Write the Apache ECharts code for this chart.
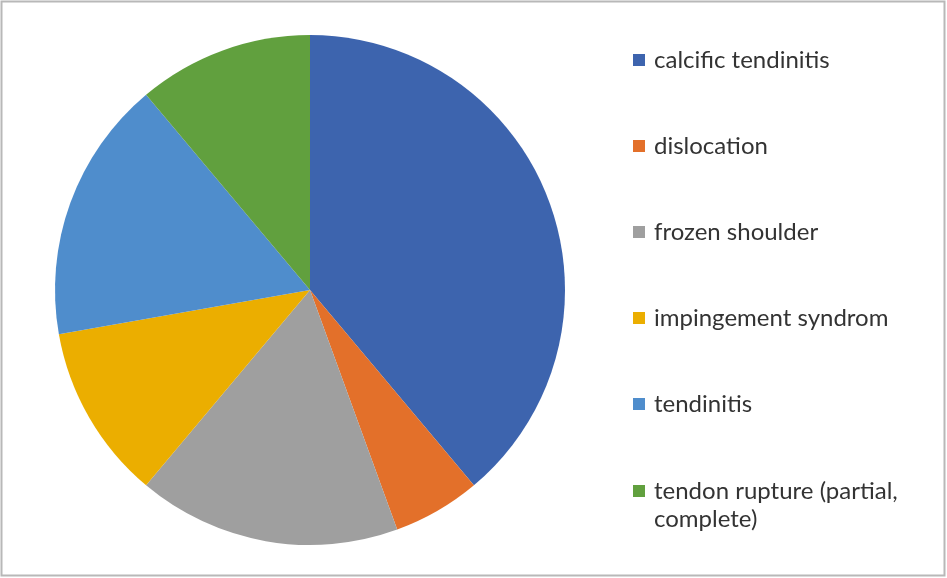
<!DOCTYPE html>
<html>
<head>
<meta charset="utf-8">
<script src="https://cdn.jsdelivr.net/npm/echarts@6/dist/echarts.min.js"></script>
<style>
html,body{margin:0;padding:0;background:#fff;}
#chart{width:947px;height:578px;}
</style>
</head>
<body>
<div id="chart"></div>
<script>
const categories = ["calcific tendinitis", "dislocation", "frozen shoulder", "impingement syndrom", "tendinitis", "tendon rupture (partial, complete)"];
const values = [7, 1, 3, 2, 3, 2];
const colors = ["#3d64ae", "#e3702a", "#9f9f9f", "#ebae00", "#4f8dcc", "#61a03e"];

const chart = echarts.init(document.getElementById('chart'), null, {renderer: 'canvas'});
const txt = {
  fontFamily: 'Lato, "Open Sans", sans-serif',
  fontSize: 24,
  lineHeight: 28,
  color: '#333333'
};
const rich = {
  t: Object.assign({padding: [0, 0, 0, 4]}, txt),
  e: Object.assign({padding: [0, 0, 0, 4]}, txt)
};
const legendBase = {
  orient: 'vertical',
  left: 633,
  padding: 0,
  icon: 'rect',
  itemWidth: 12,
  itemHeight: 12,
  itemGap: 58,
  textStyle: Object.assign({rich: rich}, txt)
};
chart.setOption({
  animation: false,
  backgroundColor: '#ffffff',
  color: colors,
  graphic: [{
    type: 'rect',
    shape: {x: 1.5, y: 1.5, width: 943, height: 574},
    style: {fill: 'none', stroke: '#b8b8b8', lineWidth: 2},
    silent: true
  }],
  legend: [
    Object.assign({}, legendBase, {
      top: 46,
      height: 440,
      data: categories.slice(0, 5),
      formatter: function (name) { return '{t|' + name + '}'; }
    }),
    Object.assign({}, legendBase, {
      top: 449,
      height: 120,
      data: categories.slice(5),
      formatter: function (name) {
        const parts = name.split(' (');
        return '{e| }\n{t|' + parts[0] + ' (' + parts[1].split(' ')[0] + '}\n{t|' + parts[1].split(' ').slice(1).join(' ') + '}';
      }
    })
  ],
  series: [{
    type: 'pie',
    center: [310, 290],
    radius: 255,
    startAngle: 90,
    clockwise: true,
    label: {show: false},
    labelLine: {show: false},
    itemStyle: {borderWidth: 0},
    data: categories.map((c, i) => ({name: c, value: values[i]}))
  }]
});
</script>
</body>
</html>
